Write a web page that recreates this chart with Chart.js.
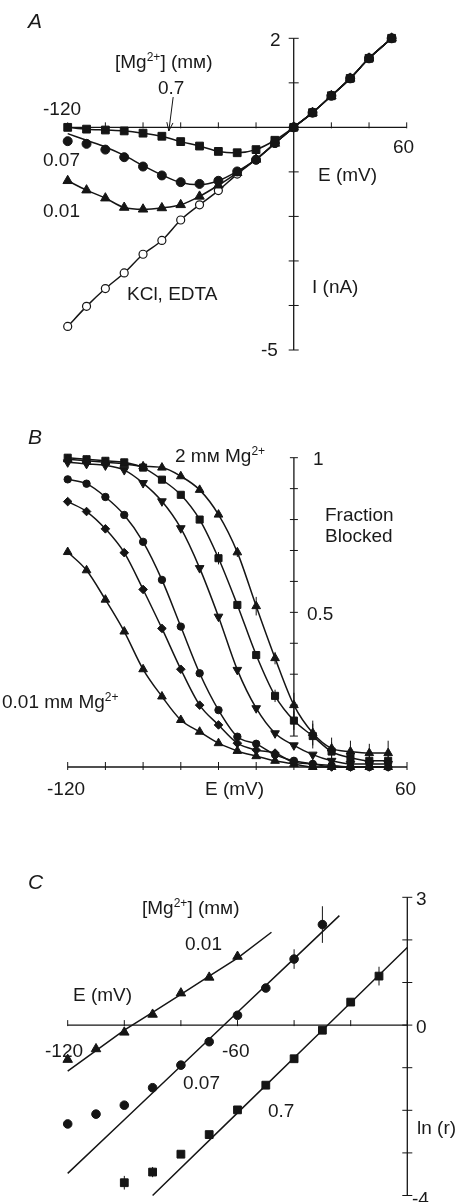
<!DOCTYPE html>
<html>
<head>
<meta charset="utf-8">
<script src="https://cdn.jsdelivr.net/npm/chart.js@4.4.1/dist/chart.umd.min.js"></script>
<style>
  body { margin: 0; background: #fff; width: 456px; height: 1202px; overflow: hidden; position: relative;
         font-family: "Liberation Sans", Arial, sans-serif; color: #1a1a1a; }
  canvas { position: absolute; left: 0; }
  .t { position: absolute; font-size: 19px; line-height: 19px; white-space: nowrap; }
  .t .s { font-size: 12px; position: relative; top: -7px; }
  .p { font-style: italic; font-size: 21px; }
</style>
</head>
<body>
<canvas id="chartA" width="456" height="380" style="top:0"></canvas>
<canvas id="chartB" width="456" height="440" style="top:380px"></canvas>
<canvas id="chartC" width="456" height="382" style="top:820px"></canvas>

<!-- panel A -->
<div class="t p" style="left:28px;top:11px">A</div>
<div class="t" style="left:270px;top:30px">2</div>
<div class="t" style="left:115px;top:52px">[Mg<span class="s">2+</span>] (mᴍ)</div>
<div class="t" style="left:158px;top:78px">0.7</div>
<div class="t" style="left:43px;top:99px">-120</div>
<div class="t" style="left:43px;top:150px">0.07</div>
<div class="t" style="left:43px;top:201px">0.01</div>
<div class="t" style="left:393px;top:137px">60</div>
<div class="t" style="left:318px;top:165px">E (mV)</div>
<div class="t" style="left:312px;top:277px">I (nA)</div>
<div class="t" style="left:127px;top:284px">KCl, EDTA</div>
<div class="t" style="left:261px;top:340px">-5</div>

<!-- panel B -->
<div class="t p" style="left:28px;top:427px">B</div>
<div class="t" style="left:175px;top:446px">2 mᴍ Mg<span class="s">2+</span></div>
<div class="t" style="left:313px;top:449px">1</div>
<div class="t" style="left:325px;top:505px">Fraction</div>
<div class="t" style="left:325px;top:526px">Blocked</div>
<div class="t" style="left:307px;top:604px">0.5</div>
<div class="t" style="left:2px;top:692px">0.01 mᴍ Mg<span class="s">2+</span></div>
<div class="t" style="left:47px;top:779px">-120</div>
<div class="t" style="left:205px;top:779px">E (mV)</div>
<div class="t" style="left:395px;top:779px">60</div>

<!-- panel C -->
<div class="t p" style="left:28px;top:872px">C</div>
<div class="t" style="left:142px;top:898px">[Mg<span class="s">2+</span>] (mᴍ)</div>
<div class="t" style="left:185px;top:934px">0.01</div>
<div class="t" style="left:73px;top:985px">E (mV)</div>
<div class="t" style="left:45px;top:1041px">-120</div>
<div class="t" style="left:222px;top:1041px">-60</div>
<div class="t" style="left:183px;top:1073px">0.07</div>
<div class="t" style="left:268px;top:1101px">0.7</div>
<div class="t" style="left:416px;top:889px">3</div>
<div class="t" style="left:416px;top:1017px">0</div>
<div class="t" style="left:417px;top:1118px">ln (r)</div>
<div class="t" style="left:412px;top:1189px">-4</div>

<script>
// ---- panel A: I-V curves ----
const aE      = [-120, -110, -100, -90, -80, -70, -60, -50, -40, -30, -20, -10, 0, 10, 20, 30, 40, 52];
const aSq07   = [0, -0.04, -0.06, -0.08, -0.13, -0.2, -0.32, -0.42, -0.54, -0.57, -0.5, -0.29, 0, 0.33, 0.71, 1.1, 1.55, 2.0];
const aCirc007 = [-0.31, -0.37, -0.5, -0.67, -0.88, -1.08, -1.23, -1.27, -1.2, -0.99, -0.73, -0.35, 0, 0.33, 0.71, 1.1, 1.55, 2.0];
const aFit007  = [-0.14, -0.29, -0.44, -0.63, -0.86, -1.07, -1.24, -1.29, -1.2, -0.99, -0.72, -0.36, 0, 0.33, 0.71, 1.1, 1.55, 2.0];
const aTri001 = [-1.2, -1.41, -1.59, -1.8, -1.84, -1.81, -1.74, -1.55, -1.3, -1.02, -0.72, -0.36, 0, 0.33, 0.71, 1.1, 1.55, 2.0];
const aKcl    = [-4.47, -4.02, -3.62, -3.27, -2.85, -2.54, -2.08, -1.74, -1.42, -1.05, -0.72, -0.36, 0, 0.33, 0.71, 1.1, 1.55, 2.0];
const aXTicks = [-120, -100, -80, -60, -40, -20, 0, 20, 40, 60];
const aYTicks = [2, 1, 0, -1, -2, -3, -4, -5];

// ---- panel B: fraction blocked ----
const bE      = [-120, -110, -100, -90, -80, -70, -60, -50, -40, -30, -20, -10, 0, 10, 20, 30, 40, 50];
const bTri2   = [0.995, 0.99, 0.985, 0.98, 0.972, 0.968, 0.94, 0.896, 0.816, 0.694, 0.52, 0.352, 0.2, 0.11, 0.06, 0.05, 0.045, 0.045];
const bTri2Err = [0, 0, 0, 0, 0, 0, 0, 0, 0, 0.015, 0.03, 0.02, 0.04, 0.04, 0.035, 0.035, 0.03, 0.04];
const bSq     = [1.0, 0.995, 0.99, 0.985, 0.968, 0.929, 0.88, 0.8, 0.675, 0.524, 0.362, 0.23, 0.15, 0.1, 0.05, 0.03, 0.02, 0.02];
const bSqErr  = [0, 0, 0, 0, 0, 0, 0, 0, 0.02, 0, 0, 0.02, 0.03, 0.04, 0.03, 0.03, 0.02, 0.02];
const bInv    = [0.985, 0.98, 0.975, 0.96, 0.918, 0.859, 0.772, 0.643, 0.486, 0.314, 0.19, 0.109, 0.07, 0.04, 0.02, 0.01, 0.01, 0.01];
const bCirc   = [0.93, 0.916, 0.873, 0.815, 0.728, 0.605, 0.454, 0.303, 0.184, 0.098, 0.075, 0.04, 0.02, 0.01, 0.005, 0, 0, 0];
const bDiam   = [0.858, 0.826, 0.77, 0.693, 0.574, 0.448, 0.316, 0.2, 0.136, 0.077, 0.055, 0.045, 0.015, 0.01, 0, 0, 0, 0];
const bTri001 = [0.695, 0.636, 0.541, 0.438, 0.316, 0.228, 0.152, 0.114, 0.077, 0.052, 0.035, 0.02, 0.01, 0, 0, 0, 0, 0];
const bXTicks = [-120, -100, -80, -60, -40, -20, 0, 20, 40, 60];
const bYTicks = [1, 0.9, 0.8, 0.7, 0.6, 0.5, 0.4, 0.3, 0.2, 0.1];

// ---- panel C: ln(r) vs E ----
const cTriE   = [-120, -110, -100, -90, -80, -70, -60];
const cTri    = [-0.81, -0.56, -0.17, 0.25, 0.75, 1.12, 1.61];
const cTriFitE = [-120, -110, -100, -90, -80, -70, -60, -48];
const cTriFit = [-1.08, -0.6, -0.12, 0.3, 0.72, 1.15, 1.57, 2.18];
const cCircE  = [-120, -110, -100, -90, -80, -70, -60, -50, -40, -30];
const cCirc   = [-2.32, -2.09, -1.88, -1.47, -0.94, -0.39, 0.23, 0.87, 1.55, 2.36];
const cCircErr = [0, 0, 0, 0, 0, 0, 0, 0, 0.23, 0.43];
const cCircFitE = [-120, -100, -80, -60, -40, -24];
const cCircFit = [-3.48, -2.22, -0.96, 0.3, 1.56, 2.57];
const cSqE    = [-100, -90, -80, -70, -60, -50, -40, -30, -20, -10];
const cSq     = [-3.7, -3.45, -3.03, -2.57, -1.99, -1.41, -0.79, -0.12, 0.54, 1.15];
const cSqErr  = [0.16, 0.12, 0, 0, 0, 0, 0, 0, 0, 0.22];
const cSqFitE = [-90, -60, -30, 0];
const cSqFit  = [-4.0, -2.06, -0.12, 1.82];
const cXTicks = [-120, -100, -80, -60, -40, -20, 0];
const cYTicks = [3, 2, 1, 0, -1, -2, -3, -4];

const ink = '#151515';
const pts = (xs, ys) => xs.map((x, i) => ({ x: x, y: ys[i] }));

// draws the crossing axes, tick marks, error bars and the arrow through the chart scales
const axesPlugin = {
  id: 'axes',
  beforeDatasetsDraw(chart, args, o) {
    const { ctx, scales: { x, y } } = chart;
    const line = (x1, y1, x2, y2) => { ctx.beginPath(); ctx.moveTo(x1, y1); ctx.lineTo(x2, y2); ctx.stroke(); };
    ctx.save();
    ctx.strokeStyle = ink;
    ctx.lineWidth = 1.3;
    const y0 = y.getPixelForValue(o.xAt);
    const x0 = x.getPixelForValue(o.yAt);
    line(x.getPixelForValue(o.xTicks[0]), y0, x.getPixelForValue(o.xTicks[o.xTicks.length - 1]), y0);
    line(x0, y.getPixelForValue(o.yTicks[0]), x0, y.getPixelForValue(o.yTicks[o.yTicks.length - 1]));
    ctx.lineWidth = 1;
    o.xTicks.forEach(v => { const px = x.getPixelForValue(v); line(px, y0 - o.up, px, y0 + o.down); });
    o.yTicks.forEach(v => { const py = y.getPixelForValue(v); line(x0 - o.side, py, x0 + o.side, py); });
    // error bars
    chart.data.datasets.forEach((ds, i) => {
      if (!ds.err) return;
      ds.data.forEach((d, j) => {
        const e = ds.err[j];
        if (!e) return;
        const px = x.getPixelForValue(d.x);
        line(px, y.getPixelForValue(d.y - e), px, y.getPixelForValue(d.y + e));
      });
    });
    if (o.arrow) {
      const a = o.arrow;
      const x1 = x.getPixelForValue(a[0]), y1 = y.getPixelForValue(a[1]);
      const x2 = x.getPixelForValue(a[2]), y2 = y.getPixelForValue(a[3]);
      line(x1, y1, x2, y2);
      const ang = Math.atan2(y2 - y1, x2 - x1);
      ctx.beginPath();
      ctx.moveTo(x2 - 9 * Math.cos(ang - 0.35), y2 - 9 * Math.sin(ang - 0.35));
      ctx.lineTo(x2, y2);
      ctx.lineTo(x2 - 9 * Math.cos(ang + 0.35), y2 - 9 * Math.sin(ang + 0.35));
      ctx.stroke();
    }
    ctx.restore();
  }
};

function marks(xs, ys, style, r, extra) {
  return Object.assign({
    data: pts(xs, ys), showLine: false, pointStyle: style, pointRadius: r,
    backgroundColor: ink, borderColor: ink, pointBorderWidth: 1, clip: false
  }, extra || {});
}
function curve(xs, ys, extra) {
  return Object.assign({
    data: pts(xs, ys), showLine: true, pointRadius: 0, borderColor: ink, borderWidth: 1.5,
    cubicInterpolationMode: 'monotone', clip: false
  }, extra || {});
}

function makeChart(id, datasets, xr, yr, pad, axes) {
  return new Chart(document.getElementById(id).getContext('2d'), {
    type: 'scatter',
    data: { datasets: datasets },
    options: {
      responsive: false,
      animation: false,
      events: [],
      layout: { padding: pad },
      scales: {
        x: { type: 'linear', min: xr[0], max: xr[1], display: false },
        y: { type: 'linear', min: yr[0], max: yr[1], display: false }
      },
      plugins: { legend: { display: false }, tooltip: { enabled: false }, axes: axes }
    },
    plugins: [axesPlugin]
  });
}

makeChart('chartA', [
  marks(aE, aCirc007, 'circle', 4.5),
  marks(aE, aSq07, 'rect', 5.5),
  marks(aE, aTri001, 'triangle', 5.5),
  marks(aE, aKcl, 'circle', 4, { backgroundColor: '#fff', pointBorderWidth: 1.2 }),
  curve(aE, aSq07),
  curve(aE, aFit007),
  curve(aE, aTri001),
  curve(aE, aKcl)
], [-120, 60], [-5, 2], { left: 67.7, right: 49.3, top: 38.3, bottom: 30 },
  { xAt: 0, yAt: 0, xTicks: aXTicks, yTicks: aYTicks, up: 5, down: 1, side: 5, arrow: [-64, 0.68, -66.3, -0.08] });

makeChart('chartB', [
  marks(bE, bTri2, 'triangle', 5, { err: bTri2Err }),
  marks(bE, bSq, 'rect', 5, { err: bSqErr }),
  marks(bE, bInv, 'triangle', 5, { pointRotation: 180 }),
  marks(bE, bCirc, 'circle', 3.7),
  marks(bE, bDiam, 'rectRot', 4.3),
  marks(bE, bTri001, 'triangle', 5),
  curve(bE, bTri2), curve(bE, bSq), curve(bE, bInv),
  curve(bE, bCirc), curve(bE, bDiam), curve(bE, bTri001)
], [-120, 60], [0, 1], { left: 67.7, right: 49, top: 77.7, bottom: 53 },
  { xAt: 0, yAt: 0, xTicks: bXTicks, yTicks: bYTicks, up: 5, down: 3, side: 4 });

makeChart('chartC', [
  marks(cTriE, cTri, 'triangle', 5.5),
  marks(cCircE, cCirc, 'circle', 4.3, { err: cCircErr }),
  marks(cSqE, cSq, 'rect', 5.5, { err: cSqErr }),
  curve(cTriFitE, cTriFit, { cubicInterpolationMode: 'default' }),
  curve(cCircFitE, cCircFit, { cubicInterpolationMode: 'default' }),
  curve(cSqFitE, cSqFit, { cubicInterpolationMode: 'default' })
], [-120, 0], [-4, 3], { left: 67.7, right: 48.7, top: 77.3, bottom: 2.9 },
  { xAt: 0, yAt: 0, xTicks: cXTicks, yTicks: cYTicks, up: 5, down: 1, side: 5 });
</script>
</body>
</html>
